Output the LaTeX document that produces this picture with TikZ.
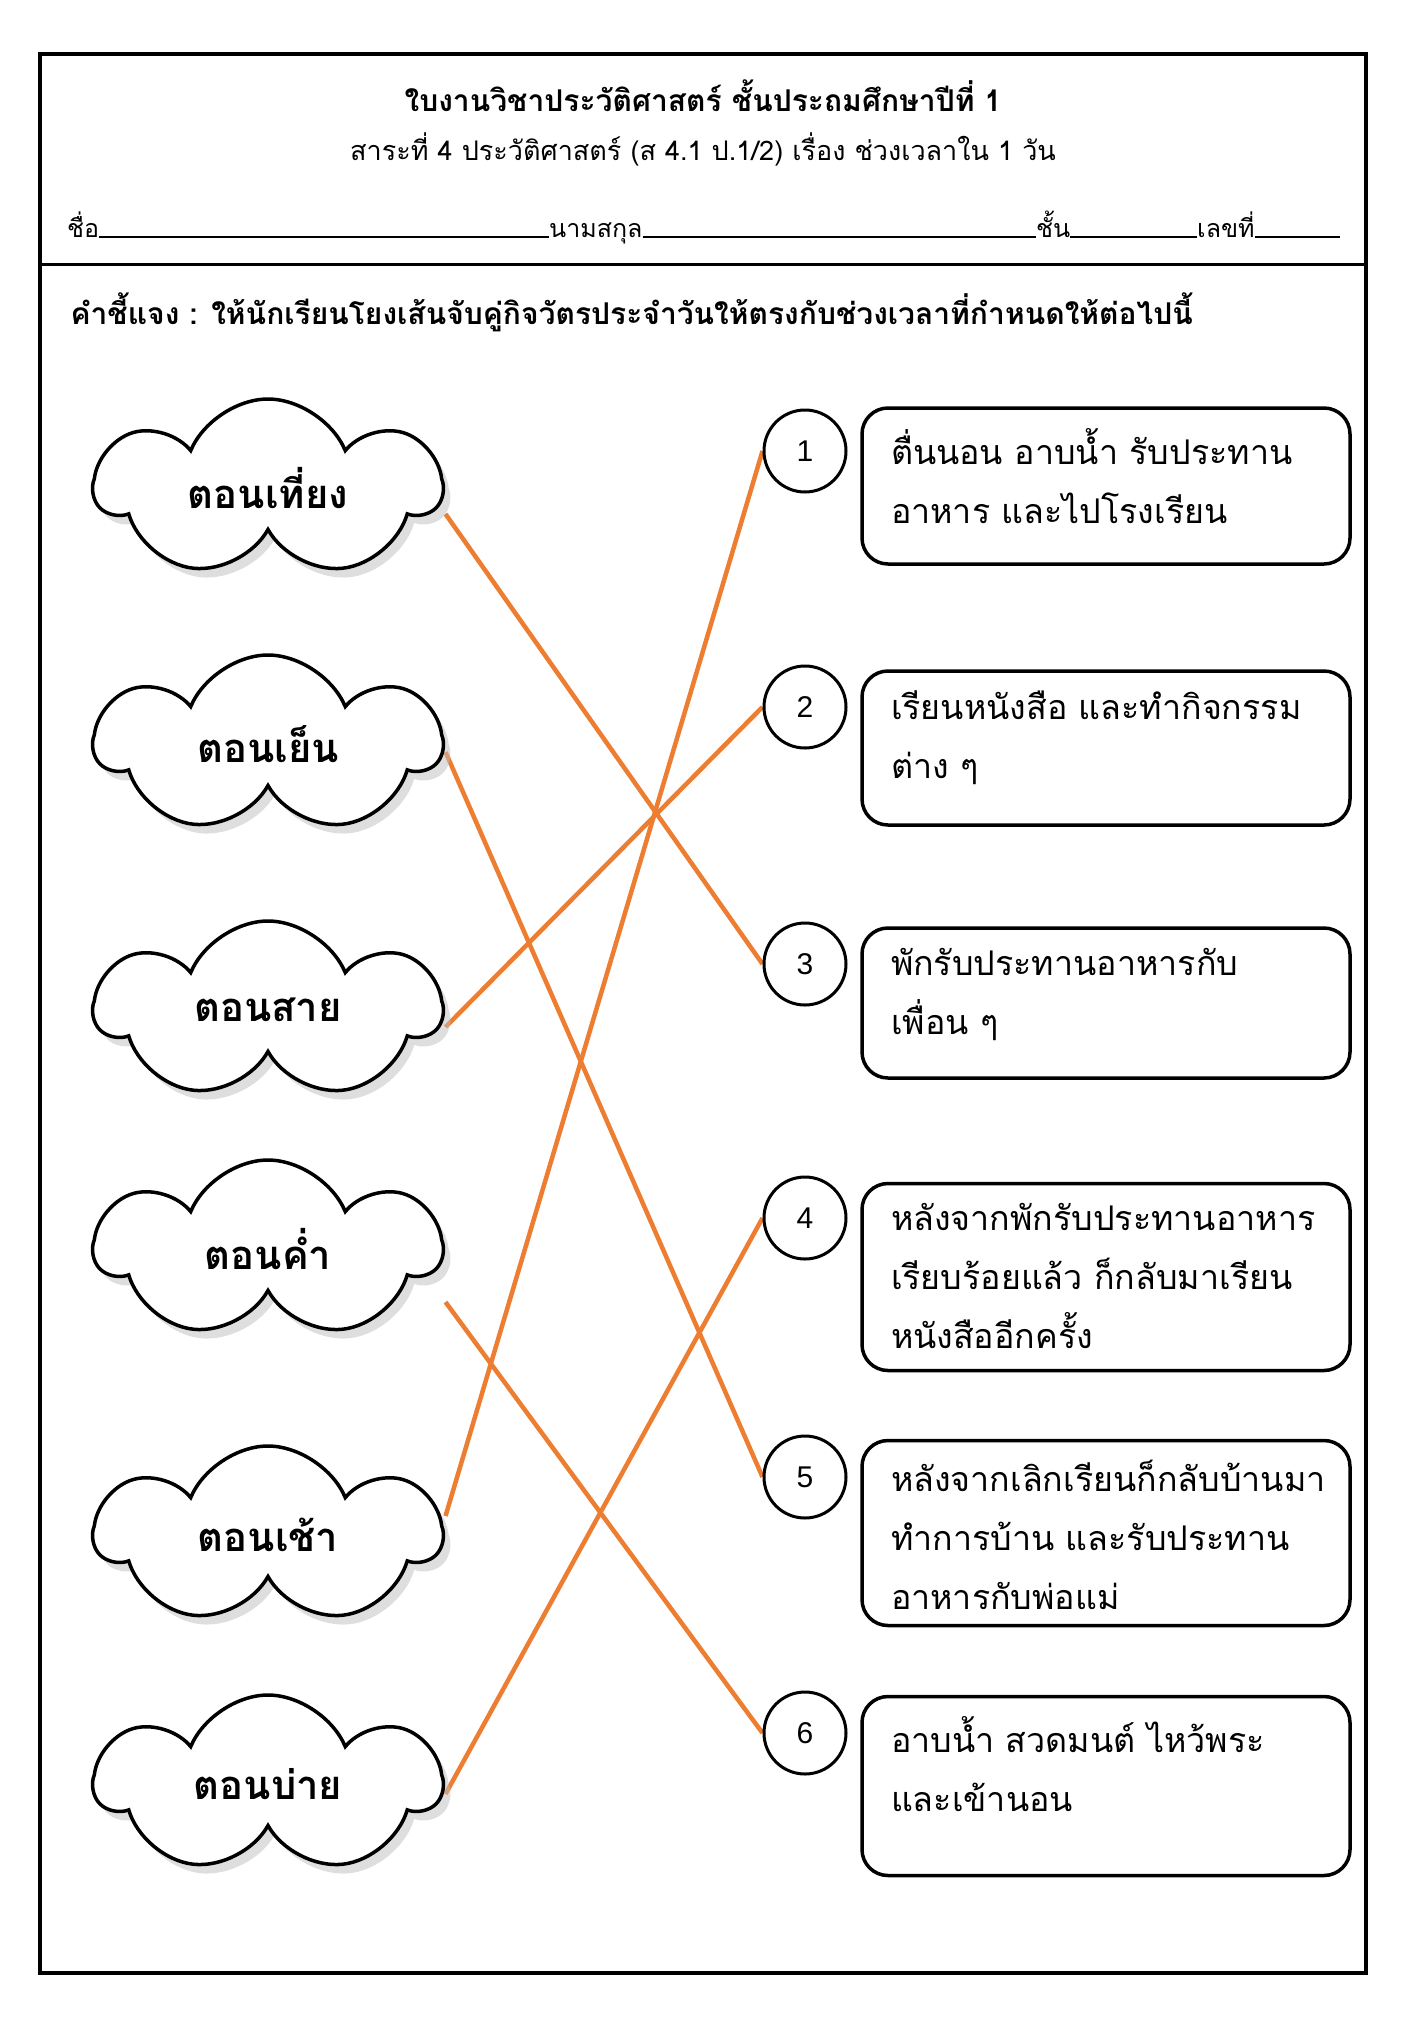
\documentclass[tikz,border=0pt]{standalone}
\usepackage{fontspec}
\setmainfont{Loma}[Script=Thai]
\newfontfamily\numfont{Liberation Sans}
\usetikzlibrary{shapes.symbols,shadows}
\pgfdeclarelayer{bg}
\pgfsetlayers{bg,main}
\definecolor{lineorange}{RGB}{237,125,49}
\tikzset{
  puff/.style={cloud, cloud puffs=7, cloud puff arc=135, aspect=1.9, draw, line width=3.5pt, fill=white,
    inner sep=0pt, minimum width=345pt, minimum height=178pt,
    drop shadow={shadow xshift=7pt, shadow yshift=-9pt, fill=black!25},
    font=\fontsize{40}{44}\selectfont\bfseries},
  numdot/.style={circle, draw, line width=3pt, fill=white, minimum size=82pt, inner sep=0pt,
    font=\numfont\fontsize{30}{32}\selectfont},
  taskbox/.style={rounded corners=26pt, draw, line width=3.5pt, fill=white, inner xsep=29pt, inner ysep=0pt,
    minimum width=488pt, align=left, font=\fontsize{34}{59}\selectfont},
  blank/.style={line width=1.5pt},
  match/.style={draw=lineorange, line width=4.5pt},
}
\newcommand{\taskpar}[2]{\parbox[c][#1][c]{430pt}{\vspace{20pt}#2\par\vfill}}
\begin{document}
\begin{tikzpicture}[x=1pt, y=-1pt]
    \useasboundingbox (0,0) rectangle (1407,2032);
    \begin{pgfonlayer}{bg}
        \fill[white] (0,0) rectangle (1407,2032);
    \end{pgfonlayer}
    \draw[line width=3.5pt] (40,54) rectangle (1366,1973);
    \draw[line width=3pt] (40,264) -- (1366,264);

    \node (title) at (703,96) {\fontsize{30}{34}\selectfont\bfseries ใบงานวิชาประวัติศาสตร์ ชั้นประถมศึกษาปีที่ 1};
    \node (sub) at (703,149) {\fontsize{27}{30}\selectfont สาระที่ 4 ประวัติศาสตร์ (ส 4.1 ป.1/2) เรื่อง ช่วงเวลาใน 1 วัน};

    \node (name) [anchor=base west, inner sep=0pt] at (67,237) {\fontsize{25}{30}\selectfont ชื่อ};
    \node (surname) [anchor=base west, inner sep=0pt] at (549,237) {\fontsize{25}{30}\selectfont นามสกุล};
    \node (grade) [anchor=base west, inner sep=0pt] at (1036,237) {\fontsize{25}{30}\selectfont ชั้น};
    \node (no) [anchor=base west, inner sep=0pt] at (1197,237) {\fontsize{25}{30}\selectfont เลขที่};
    \coordinate (noend) at (1340,237);
    \draw[blank] (name.base east) -- (surname.base west);
    \draw[blank] (surname.base east) -- (grade.base west);
    \draw[blank] (grade.base east) -- (no.base west);
    \draw[blank] (no.base east) -- (noend);

    \node (note) [anchor=west] at (67,312) {\fontsize{30}{34}\selectfont\bfseries คำชี้แจง : ให้นักเรียนโยงเส้นจับคู่กิจวัตรประจำวันให้ตรงกับช่วงเวลาที่กำหนดให้ต่อไปนี้};

    % clouds
    \node (c1) [puff] at (268,488) {ตอนเที่ยง};
    \node (c2) [puff] at (268,744) {ตอนเย็น};
    \node (c3) [puff] at (268,1010) {ตอนสาย};
    \node (c4) [puff] at (268,1249) {ตอนค่ำ};
    \node (c5) [puff] at (268,1535) {ตอนเช้า};
    \node (c6) [puff] at (268,1784) {ตอนบ่าย};

    % numbers
    \node (n1) [numdot] at (805,451) {1};
    \node (n2) [numdot] at (805,707) {2};
    \node (n3) [numdot] at (805,964) {3};
    \node (n4) [numdot] at (805,1218) {4};
    \node (n5) [numdot] at (805,1477) {5};
    \node (n6) [numdot] at (805,1733) {6};

    % activities
    \node (b1) [taskbox] at (1106,486) {\taskpar{156pt}{ตื่นนอน อาบน้ำ รับประทาน\\อาหาร และไปโรงเรียน}};
    \node (b2) [taskbox] at (1106,748) {\taskpar{154pt}{เรียนหนังสือ และทำกิจกรรม\\ต่าง ๆ}};
    \node (b3) [taskbox] at (1106,1003) {\taskpar{150pt}{พักรับประทานอาหารกับ\\เพื่อน ๆ}};
    \node (b4) [taskbox] at (1106,1277) {\taskpar{187pt}{หลังจากพักรับประทานอาหาร\\เรียบร้อยแล้ว ก็กลับมาเรียน\\หนังสืออีกครั้ง}};
    \node (b5) [taskbox] at (1106,1533) {\taskpar{185pt}{หลังจากเลิกเรียนก็กลับบ้านมา\\ทำการบ้าน และรับประทาน\\อาหารกับพ่อแม่}};
    \node (b6) [taskbox] at (1106,1786) {\taskpar{179pt}{อาบน้ำ สวดมนต์ ไหว้พระ\\และเข้านอน}};

    \begin{pgfonlayer}{bg}
        \draw[match] ([yshift=-26pt]c1.east) -- (n3.west);
        \draw[match] ([yshift=-8pt]c2.east) -- (n5.west);
        \draw[match] ([yshift=-17pt]c3.east) -- (n2.west);
        \draw[match] ([yshift=-53pt]c4.east) -- (n6.west);
        \draw[match] ([yshift=19pt]c5.east) -- (n1.west);
        \draw[match] ([yshift=-10pt]c6.east) -- (n4.west);
    \end{pgfonlayer}
\end{tikzpicture}
\end{document}
